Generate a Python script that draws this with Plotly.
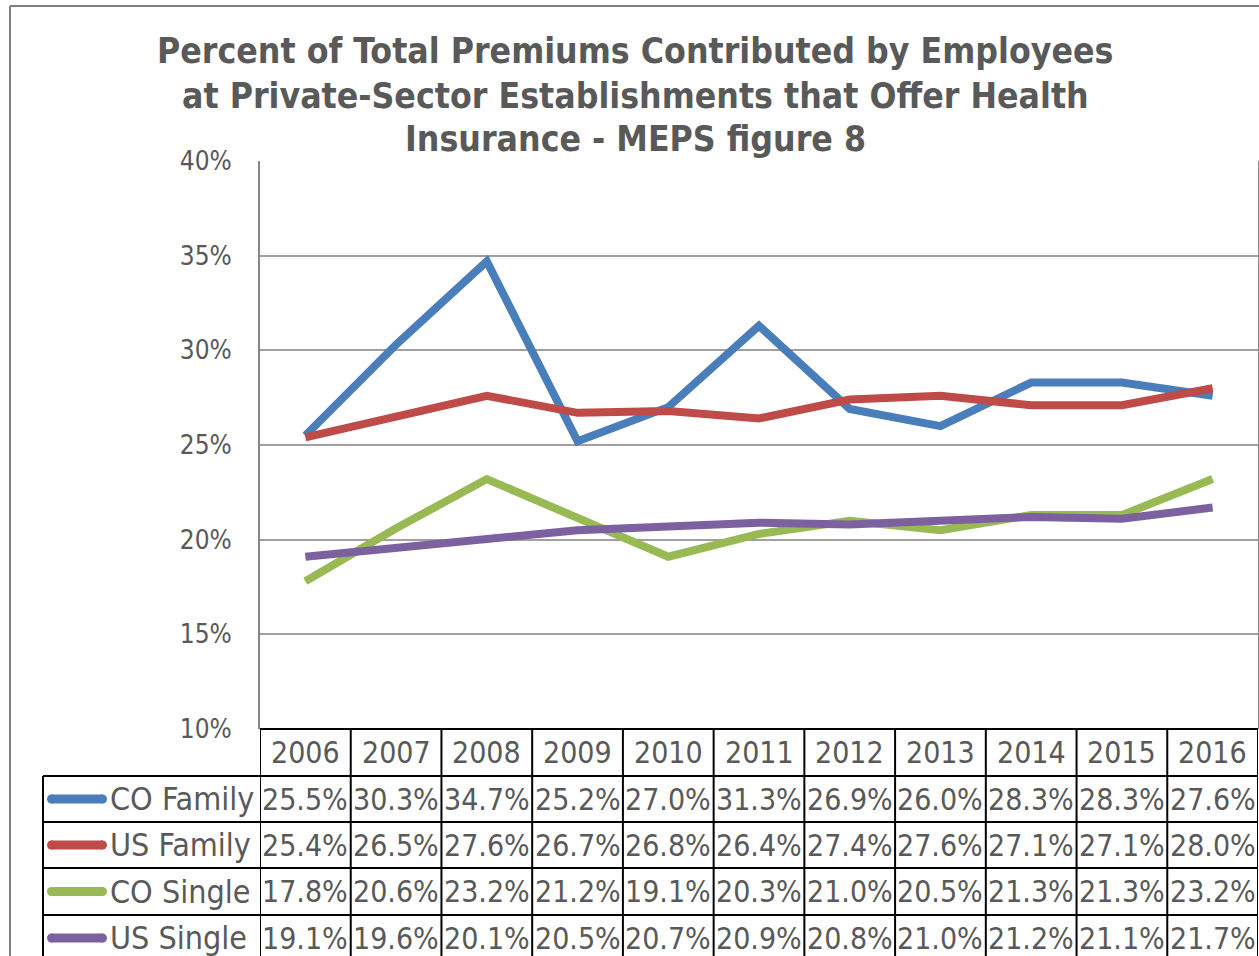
import plotly.graph_objects as go

years = ["2006", "2007", "2008", "2009", "2010", "2011", "2012", "2013", "2014", "2015", "2016"]
series_names = ["CO Family", "US Family", "CO Single", "US Single"]
co_family = [25.5, 30.3, 34.7, 25.2, 27.0, 31.3, 26.9, 26.0, 28.3, 28.3, 27.6]
us_family = [25.4, 26.5, 27.6, 26.7, 26.8, 26.4, 27.4, 27.6, 27.1, 27.1, 28.0]
co_single = [17.8, 20.6, 23.2, 21.2, 19.1, 20.3, 21.0, 20.5, 21.3, 21.3, 23.2]
us_single = [19.1, 19.6, 20.1, 20.5, 20.7, 20.9, 20.8, 21.0, 21.2, 21.1, 21.7]
colors = ["#4A7EBB", "#BE4B48", "#98B954", "#7D60A0"]
title_lines = ["Percent of Total Premiums Contributed by Employees",
               "at Private-Sector Establishments that Offer Health",
               "Insurance - MEPS figure 8"]

all_series = [co_family, us_family, co_single, us_single]

W, H = 1259, 956
FONT = "Liberation Sans Narrow, DejaVu Sans Condensed, Roboto Condensed, Arial Narrow, sans-serif"
TXT = "#595959"

def px(x):
    return x / W

def py(y):
    return 1 - y / H

plot_left, plot_right = 260, 1258
plot_top, plot_bottom = 161, 729
row_edges = [729, 776, 822, 868, 915, 961]

fig = go.Figure()
xs = list(range(len(years)))
for name, vals, col in zip(series_names, all_series, colors):
    fig.add_trace(go.Scatter(
        x=xs, y=[v / 100 for v in vals], mode="lines", name=name,
        line=dict(color=col, width=8), showlegend=False, cliponaxis=False))

shapes = []
annotations = []

# outer chart frame
shapes.append(dict(type="line", xref="paper", yref="paper", x0=px(10), x1=px(10), y0=py(6), y1=py(970),
                   line=dict(color="#7F7F7F", width=2)))
shapes.append(dict(type="line", xref="paper", yref="paper", x0=px(10), x1=px(1270), y0=py(6), y1=py(6),
                   line=dict(color="#7F7F7F", width=2)))

# data table horizontal lines
shapes.append(dict(type="line", xref="x", yref="paper", x0=-0.5, x1=10.5, y0=py(row_edges[0]), y1=py(row_edges[0]),
                   line=dict(color="black", width=2)))
for ye in row_edges[1:5]:
    shapes.append(dict(type="line", xref="paper", yref="paper", x0=px(43), x1=px(plot_right), y0=py(ye), y1=py(ye),
                       line=dict(color="black", width=2)))
# vertical lines
for i in range(len(years) + 1):
    shapes.append(dict(type="line", xref="x", yref="paper", x0=i - 0.5, x1=i - 0.5, y0=py(row_edges[0]), y1=py(970),
                       line=dict(color="black", width=2)))
shapes.append(dict(type="line", xref="paper", yref="paper", x0=px(43), x1=px(43), y0=py(row_edges[1]), y1=py(970),
                   line=dict(color="black", width=2)))

# header years
hy = (row_edges[0] + row_edges[1]) / 2
for i, yr in enumerate(years):
    annotations.append(dict(x=i, y=py(hy), xref="x", yref="paper", text=yr, showarrow=False,
                            font=dict(family=FONT, size=30, color=TXT), xanchor="center", yanchor="middle"))

# rows
for r, (name, vals, col) in enumerate(zip(series_names, all_series, colors)):
    yc = (row_edges[r + 1] + row_edges[r + 2]) / 2
    shapes.append(dict(type="line", xref="paper", yref="paper", x0=px(51), x1=px(103), y0=py(yc), y1=py(yc),
                       line=dict(color=col, width=9)))
    shapes.append(dict(type="circle", xref="paper", yref="paper", x0=px(47), x1=px(56), y0=py(yc + 4.5), y1=py(yc - 4.5),
                       fillcolor=col, line=dict(width=0)))
    shapes.append(dict(type="circle", xref="paper", yref="paper", x0=px(98), x1=px(107), y0=py(yc + 4.5), y1=py(yc - 4.5),
                       fillcolor=col, line=dict(width=0)))
    annotations.append(dict(x=px(108), y=py(yc), xref="paper", yref="paper", text=name, showarrow=False,
                            font=dict(family=FONT, size=32, color=TXT), xanchor="left", yanchor="middle"))
    for i, v in enumerate(vals):
        annotations.append(dict(x=i, y=py(yc), xref="x", yref="paper", text=f"{v:.1f}%", showarrow=False,
                                font=dict(family=FONT, size=30, color=TXT), xanchor="center", yanchor="middle"))

# title
for ln, yline in zip(title_lines, [50, 95, 138]):
    annotations.append(dict(x=px(635), y=py(yline), xref="paper", yref="paper", text="<b>" + ln + "</b>",
                            showarrow=False, font=dict(family=FONT, size=35.3, color=TXT),
                            xanchor="center", yanchor="middle"))

fig.update_layout(
    width=W, height=H,
    margin=dict(l=0, r=0, t=0, b=0, autoexpand=False),
    paper_bgcolor="white", plot_bgcolor="white",
    showlegend=False,
    shapes=shapes, annotations=annotations,
    xaxis=dict(domain=[px(plot_left), px(plot_right)], range=[-0.5, 10.5], showticklabels=False,
               showgrid=False, zeroline=False, ticks="", showline=False, fixedrange=True, automargin=False),
    yaxis=dict(domain=[py(plot_bottom), py(plot_top)], range=[0.10, 0.40], dtick=0.05, tick0=0.10,
               tickformat=".0%", showgrid=True, gridcolor="#A0A0A0", gridwidth=2, zeroline=False,
               showline=True, linecolor="#868686", linewidth=2, mirror=True, ticks="",
               ticklabelstandoff=21, automargin=False,
               tickfont=dict(family=FONT, size=26, color=TXT), fixedrange=True),
)

fig.write_html("out.html", config={"displayModeBar": False},
               post_script="document.body.style.margin='0';document.body.style.overflow='hidden';")
